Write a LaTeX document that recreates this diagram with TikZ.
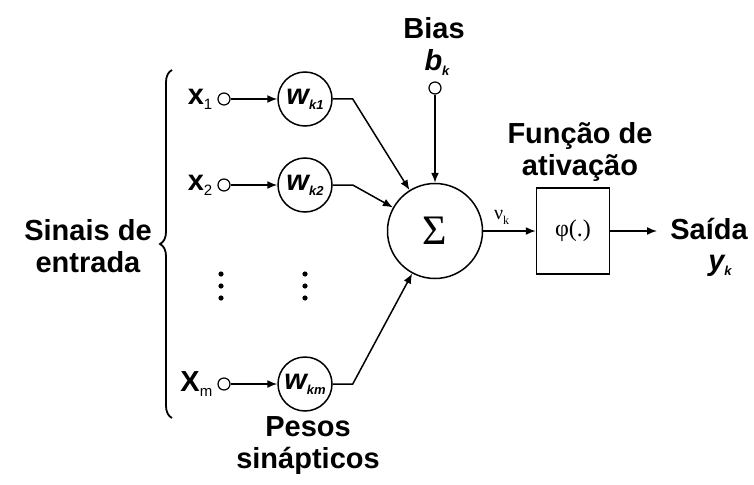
\documentclass[tikz,border=0pt]{standalone}
\usepackage{fontspec}
\setmainfont{Liberation Sans}
\newfontfamily\grk{Liberation Serif}
\usetikzlibrary{arrows.meta,decorations.pathreplacing}

\newcommand{\lowsub}[2][15]{\raisebox{-5pt}{\fontsize{#1}{#1}\selectfont #2}}

\begin{document}
\begin{tikzpicture}[
        x=1pt, y=-1pt,
        line width=1.5pt,
        font=\fontsize{29}{32}\selectfont\bfseries,
        lbl/.style={align=center, inner sep=0pt},
        term/.style={circle, draw, fill=white, minimum size=12pt,
                     inner sep=0pt, line width=1.2pt},
        weight/.style={circle, draw, minimum size=54pt, inner sep=0pt},
        sumnode/.style={circle, draw, minimum size=95pt, inner sep=0pt},
        actbox/.style={rectangle, draw, minimum width=73pt,
                       minimum height=86pt, inner sep=0pt},
        link/.style={-{Latex[length=10pt,width=8pt]}},
      ]
        \useasboundingbox (0,0) rectangle (754,484);

        % somador e bias
        \node[sumnode] (sum) at (435,231)
          {\grk\mdseries\fontsize{42}{42}\selectfont Σ};
        \node[lbl] (bias) at (434,28) {Bias};
        \node[lbl] (bk) at (437,62) {\itshape b\lowsub[13]{\itshape k}};
        \node[term] (b) at (435,88) {};
        \draw[link] (b) -- (sum);

        % entradas e pesos
        \foreach \n/\y/\lab/\sub in {1/99/x/1, 2/185/x/2, m/384/X/m} {
          \node[lbl, anchor=east] (lab\n) at (213,\y)
            {\lab\lowsub{\mdseries\sub}};
          \node[term] (x\n) at (224,\y) {};
          \node[weight] (w\n) at (305,\y)
            {\itshape w\lowsub[13]{\itshape k\sub}};
          \draw[link] (x\n) -- (w\n);
          \draw[link] (w\n.east) -- ++(20,0) -- (sum);
        }
        \foreach \d in {274,286,298} {
          \fill (221,\d) circle (2.6);
          \fill (305,\d) circle (2.6);
        }

        \draw[decorate, decoration={brace, amplitude=12pt}, line width=1.8pt]
          (172,418) -- (172,70);
        \node[lbl] (sinais) at (88,246) {Sinais de\\entrada};
        \node[lbl] (pesos) at (308,446) {Pesos\\sinápticos};

        % ativacao e saida
        \node[actbox] (act) at (573,231)
          {\grk\mdseries\fontsize{24}{24}\selectfont φ(.)};
        \node[lbl] (funcao) at (580,152) {Função de\\ativação};
        \draw[link] (sum) -- (act)
          node[pos=0.35, above=2pt, font=\grk\fontsize{20}{20}\selectfont]
          {ν\lowsub[12]{k}};
        \node[lbl] (saida) at (709,229) {Saída};
        \node[lbl] (yk) at (720,266) {\itshape y\lowsub[13]{\itshape k}};
        \coordinate (out) at (657,231);
        \draw[link] (act) -- (out);
      \end{tikzpicture}
\end{document}
